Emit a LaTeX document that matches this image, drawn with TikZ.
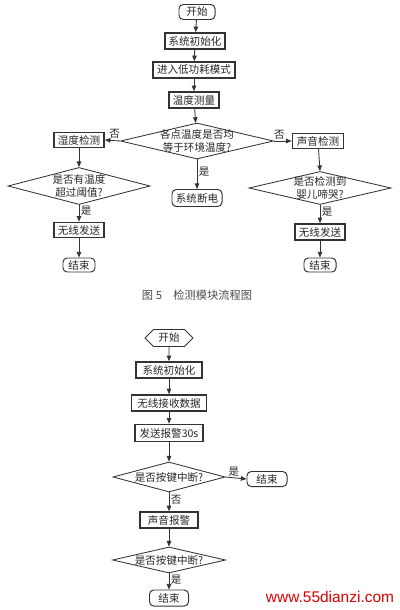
\documentclass[tikz,border=0pt]{standalone}
\usepackage{fontspec}
\usepackage{tikz}
\usetikzlibrary{shapes.geometric,shapes.symbols,arrows.meta}
\newfontfamily\cjk{Noto Sans CJK SC}
\setsansfont{Liberation Sans}

\tikzset{
  line/.style={draw=black!80, line width=0.6pt},
  flow/.style={line, -{Triangle[length=4pt,width=3.2pt]}},
  proc/.style={draw=black!80, line width=1.1pt, inner sep=0pt,
    minimum height=0.4cm, font=\cjk\fontsize{7.5}{8}\selectfont, text=black!85},
  term/.style={line, line width=0.7pt, rounded corners=3pt, inner sep=0pt,
    minimum height=0.375cm, font=\cjk\fontsize{7.5}{8}\selectfont, text=black!85},
  dia/.style={line, diamond, inner sep=0pt},
  diatext/.style={align=center, font=\cjk\fontsize{7.5}{9}\selectfont, text=black!85},
  lab/.style={font=\cjk\fontsize{7.5}{8}\selectfont, text=black!85, inner sep=1pt}
}

\begin{document}
\begin{tikzpicture}[x=0.025cm,y=-0.025cm]
    \useasboundingbox (0,0) rectangle (400,610);
    % detection module
    \node[term, minimum width=0.9cm] (start1) at (197,12) {开始};
    \node[proc, minimum width=1.5cm] (init1) at (195,41) {系统初始化};
    \node[proc, minimum width=2.05cm] (low) at (194,70) {进入低功耗模式};
    \node[proc, minimum width=1.25cm] (meas) at (194,100) {温度测量};
    \node[dia, minimum width=3.825cm, minimum height=0.9cm,
      label={[diatext]center:各点温度是否均\\等于环境温度?}] (eq) at (197,141) {};
    \node[proc, minimum width=1.25cm, minimum height=0.375cm] (wet) at (79,140) {湿度检测};
    \node[proc, minimum width=1.275cm, minimum height=0.375cm] (snd) at (318,141) {声音检测};
    \node[term, minimum width=1.25cm, minimum height=0.425cm] (off) at (197,198) {系统断电};
    \node[dia, minimum width=3.55cm, minimum height=0.925cm,
      label={[diatext]center:是否有温度\\超过阈值?}] (over) at (79,186) {};
    \node[dia, minimum width=3.55cm, minimum height=0.825cm,
      label={[diatext]center:是否检测到\\婴儿啼哭?}] (cry) at (320,188) {};
    \node[proc, minimum width=1.25cm, minimum height=0.375cm] (send1) at (79,230) {无线发送};
    \node[proc, minimum width=1.25cm, minimum height=0.4cm] (send2) at (320,232) {无线发送};
    \node[term, minimum width=0.8cm, minimum height=0.35cm] (end1) at (79,265) {结束};
    \node[term, minimum width=0.8cm, minimum height=0.35cm] (end2) at (320,265) {结束};

    \draw[flow] (start1) -- (init1);
    \draw[flow] (init1) -- (low);
    \draw[flow] (low) -- (meas);
    \draw[flow] (meas) -- (eq);
    \draw[flow] (eq.west) -- node[lab, above, pos=0.35] {否} (wet.east);
    \draw[flow] (eq.east) -- node[lab, above, pos=0.3] {否} (snd.west);
    \draw[flow] (eq.south) -- node[lab, right, pos=0.4] {是} (off.north);
    \draw[flow] (wet) -- (over.north);
    \draw[flow] (over.south) -- node[lab, right, pos=0.35] {是} (send1);
    \draw[flow] (send1) -- (end1);
    \draw[flow] (snd) -- (cry.north);
    \draw[flow] (cry.south) -- node[lab, right, pos=0.35] {是} (send2);
    \draw[flow] (send2) -- (end2);

    \node[font=\cjk\fontsize{8}{9}\selectfont, text=black!70] (cap) at (197,295)
      {图 5\quad 检测模块流程图};

    % alarm module
    \node[line, line width=0.7pt, signal, signal to=west and east, inner sep=0pt,
      minimum width=1.2cm, minimum height=0.425cm,
      font=\cjk\fontsize{7.5}{8}\selectfont, text=black!85] (start2) at (169,338) {开始};
    \node[proc, minimum width=1.65cm] (init2) at (169,370) {系统初始化};
    \node[proc, minimum width=1.875cm] (recv) at (169,403) {无线接收数据};
    \node[proc, minimum width=1.7cm, minimum height=0.425cm] (al30) at (169,433) {发送报警30s};
    \node[dia, minimum width=2.8cm, minimum height=0.75cm,
      label={[diatext]center:是否按键中断?}] (key1) at (169,477) {};
    \node[term, minimum width=1.0cm, minimum height=0.375cm] (end3) at (267,479) {结束};
    \node[proc, minimum width=1.45cm] (alarm) at (169,520) {声音报警};
    \node[dia, minimum width=2.825cm, minimum height=0.65cm,
      label={[diatext]center:是否按键中断?}] (key2) at (169,560) {};
    \node[term, minimum width=0.975cm, minimum height=0.4cm] (end4) at (169,598) {结束};

    \draw[flow] (start2) -- (init2);
    \draw[flow] (init2) -- (recv);
    \draw[flow] (recv) -- (al30);
    \draw[flow] (al30) -- (key1);
    \draw[flow] (key1.east) -- node[lab, above, pos=0.4] {是} (end3.west);
    \draw[flow] (key1.south) -- node[lab, right, pos=0.4] {否} (alarm);
    \draw[flow] (alarm) -- (key2);
    \draw[flow] (key2.south) -- node[lab, right, pos=0.4] {是} (end4);

    \node[font=\sffamily\fontsize{11}{12}\selectfont, text=red!85!black] (web) at (330,597)
      {www.55dianzi.com};
\end{tikzpicture}
\end{document}
